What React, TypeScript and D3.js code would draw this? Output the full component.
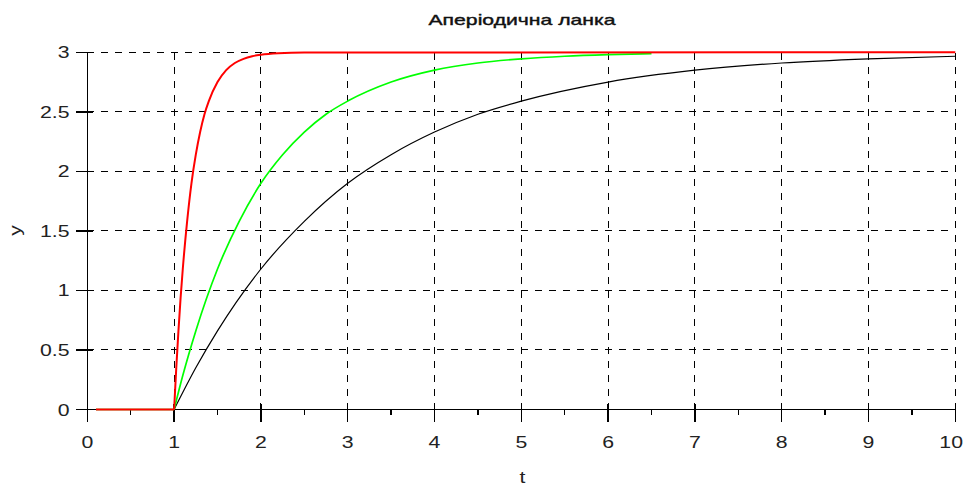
import React from 'react';
import * as d3 from 'd3';

const titleText = 'Аперіодична ланка';
const xLabel = 't';
const yLabel = 'y';

const xTicks = [0, 1, 2, 3, 4, 5, 6, 7, 8, 9, 10];
const xMinorTicks = [0.5, 1.5, 2.5, 3.5, 4.5, 5.5, 6.5, 7.5, 8.5, 9.5];
const yTicks = [0, 0.5, 1, 1.5, 2, 2.5, 3];
const yTickLabels = ['0', '0.5', '1', '1.5', '2', '2.5', '3'];

// red series (fast)
const redT = [0.1, 1, 1.025, 1.05, 1.075, 1.1, 1.15, 1.2, 1.25, 1.3, 1.35, 1.4, 1.5, 1.6, 1.7, 1.8, 1.9, 2.0, 2.2, 2.5, 10];
const redY = [0, 0, 0.35, 0.66, 0.94, 1.18, 1.58, 1.9, 2.14, 2.33, 2.48, 2.59, 2.75, 2.85, 2.91, 2.945, 2.967, 2.98, 2.993, 2.999, 3.0];

// green series (medium)
const greenT = [0.1, 1, 1.1, 1.25, 1.5, 1.75, 2, 2.25, 2.5, 2.75, 3, 3.5, 4, 4.5, 5, 5.5, 6, 6.5];
const greenY = [0, 0, 0.285, 0.66, 1.18, 1.58, 1.9, 2.14, 2.33, 2.48, 2.59, 2.75, 2.85, 2.91, 2.945, 2.967, 2.98, 2.988];

// black series (slow)
const blackT = [0.1, 1, 1.25, 1.5, 2, 2.5, 3, 3.5, 4, 4.5, 5, 6, 7, 8, 9, 10];
const blackY = [0, 0, 0.35, 0.66, 1.18, 1.58, 1.9, 2.14, 2.33, 2.48, 2.59, 2.75, 2.85, 2.91, 2.945, 2.967];

const W = 964;
const H = 486;
const FONT = '"Liberation Sans", Arial, sans-serif';
const SX = 1.25;

export default function App() {
  const x = d3.scaleLinear().domain([0, 10]).range([87.3, 955.3]);
  const y = d3.scaleLinear().domain([0, 3]).range([409.5, 52.3]);
  const curve = d3
    .line<[number, number]>()
    .x((d) => x(d[0]))
    .y((d) => y(d[1]))
    .curve(d3.curveMonotoneX);
  const straight = d3
    .line<[number, number]>()
    .x((d) => x(d[0]))
    .y((d) => y(d[1]));

  const zip = (ts: number[], vs: number[]) => ts.map((t, i) => [t, vs[i]] as [number, number]);
  const seriesPath = (ts: number[], vs: number[]) => {
    const pts = zip(ts, vs);
    const flat = pts.filter((p) => p[0] <= 1);
    const rise = pts.filter((p) => p[0] >= 1);
    return (straight(flat) || '') + (curve(rise) || '');
  };

  const x0 = x(0);
  const x1 = x(10);
  const y0 = y(0);
  const y1 = y(3);
  const dash = '7,7';

  return (
    <svg
      width={W}
      height={H}
      style={{ position: 'absolute', left: 0, top: 0, background: '#fff' }}
      fontFamily={FONT}
    >
      <rect x={0} y={0} width={W} height={H} fill="#fff" />
      {/* grid */}
      <g stroke="#000" strokeWidth={1} strokeDasharray={dash} shapeRendering="crispEdges">
        {xTicks.slice(1).map((t) => (
          <line key={'gx' + t} x1={x(t)} x2={x(t)} y1={y0} y2={y1} />
        ))}
        {yTicks.slice(1).map((v) => (
          <line key={'gy' + v} x1={x0} x2={x1} y1={y(v)} y2={y(v)} />
        ))}
      </g>
      {/* axes */}
      <g stroke="#000" strokeWidth={1.5} shapeRendering="crispEdges">
        <line x1={x0} x2={x0} y1={y0} y2={y1} />
        <line x1={x0} x2={x1} y1={y0} y2={y0} />
        {xTicks.map((t) => (
          <line key={'tx' + t} x1={x(t)} x2={x(t)} y1={y0 - 6} y2={y0 + 12} />
        ))}
        {xMinorTicks.map((t) => (
          <line key={'mx' + t} x1={x(t)} x2={x(t)} y1={y0} y2={y0 + 5} />
        ))}
        {yTicks.map((v) => (
          <line key={'ty' + v} x1={x0 - 11} x2={x0 + 6} y1={y(v)} y2={y(v)} />
        ))}
      </g>
      {/* series */}
      <path d={seriesPath(blackT, blackY)} fill="none" stroke="#000" strokeWidth={1.2} />
      <path d={seriesPath(greenT, greenY)} fill="none" stroke="#00ff00" strokeWidth={1.7} />
      <path d={seriesPath(redT, redY)} fill="none" stroke="#ff0000" strokeWidth={2} />
      {/* tick labels */}
      <g fill="#222" fontSize={17}>
        {xTicks.map((t, i) => {
          const last = i === xTicks.length - 1;
          return (
            <text
              key={'lx' + t}
              transform={`translate(${last ? 963 : x(t)},${448}) scale(${SX},1)`}
              textAnchor={last ? 'end' : 'middle'}
            >
              {String(t)}
            </text>
          );
        })}
        {yTicks.map((v, i) => (
          <text
            key={'ly' + v}
            transform={`translate(${69.5},${y(v) + 6}) scale(${SX},1)`}
            textAnchor="end"
          >
            {yTickLabels[i]}
          </text>
        ))}
      </g>
      {/* axis labels */}
      <text
        fill="#222"
        fontSize={17}
        textAnchor="middle"
        transform={`translate(${522.5},${483}) scale(${SX},1)`}
      >
        {xLabel}
      </text>
      <text
        fill="#222"
        fontSize={17}
        textAnchor="middle"
        transform={`translate(${21},${230.5}) rotate(-90) scale(${SX},1)`}
      >
        {yLabel}
      </text>
      {/* title */}
      <text
        x={522}
        y={25}
        fill="#111"
        stroke="#111"
        strokeWidth={0.4}
        fontSize={15}
        textAnchor="middle"
        textLength={187}
        lengthAdjust="spacingAndGlyphs"
      >
        {titleText}
      </text>
    </svg>
  );
}
